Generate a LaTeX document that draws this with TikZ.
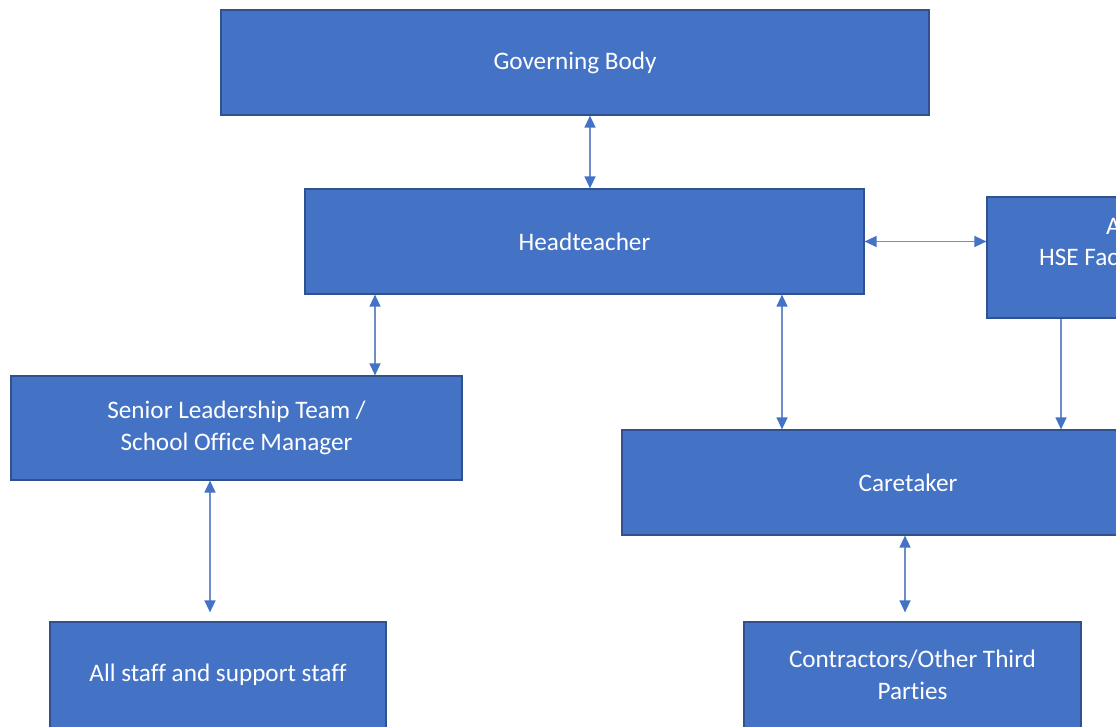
\documentclass[tikz,border=0pt]{standalone}
\usepackage{fontspec}
\setmainfont{Carlito}[Ligatures=NoCommon]
\usetikzlibrary{arrows.meta,calc}
\definecolor{boxfill}{HTML}{4472C4}
\definecolor{boxline}{HTML}{2F528F}
\definecolor{arrline}{HTML}{6F8CCB}
\tikzset{
  orgbox/.style={rectangle, fill=boxfill, draw=boxline, line width=1.2pt, text=white, align=center,
    font=\fontsize{25.2}{31.5}\selectfont, inner sep=0pt},
  link/.style={draw=arrline, line width=1.3pt, {Triangle[length=12pt,width=11pt,color=boxfill]}-{Triangle[length=12pt,width=11pt,color=boxfill]}},
  onelink/.style={draw=arrline, line width=1.3pt, -{Triangle[length=12pt,width=11pt,color=boxfill]}}
}
\begin{document}
\begin{tikzpicture}[x=1pt,y=-1pt]
\useasboundingbox (0,0) rectangle (1116,727);
\clip (0,0) rectangle (1116,727);
\node[orgbox, minimum width=708pt, minimum height=105pt] (gov) at (575,62.5) {\raisebox{-5pt}{Governing Body}};
\node[orgbox, minimum width=559pt, minimum height=105pt] (head) at (584.5,241.5) {\raisebox{-3pt}{Headteacher}};
\node[orgbox, minimum width=200pt, minimum height=121pt] (hse) at (1087,257.5) {};
\node[text=white, font=\fontsize{25.2}{31.5}\selectfont, anchor=base west, inner sep=0pt] (hse1) at (1106,235) {A};
\node[text=white, font=\fontsize{25.2}{31.5}\selectfont, anchor=base west, inner sep=0pt] (hse2) at (1039,266) {HSE Fac};
\node[orgbox, minimum width=451pt, minimum height=104pt] (slt) at (236.5,428) {Senior Leadership Team /\\ School Office Manager};
\node[orgbox, minimum width=572pt, minimum height=105pt] (care) at (908,482.5) {\raisebox{-3pt}{Caretaker}};
\node[orgbox, minimum width=336pt, minimum height=106pt] (staff) at (218,675) {\raisebox{-3pt}{All staff and support staff}};
\node[orgbox, minimum width=337pt, minimum height=106pt] (contr) at (912.5,675) {Contractors/Other Third\\ Parties};
\draw[link] ($(gov.south)+(15,0)$) -- ($(head.north)+(5.5,0)$);
\draw[link] (head.east) -- (hse.west |- head.east);
\draw[link] ($(head.south)+(-209.5,0)$) -- (slt.north -| 375,0);
\draw[link] ($(head.south)+(197.5,0)$) -- (care.north -| 782,0);
\draw[onelink] ($(hse.south)+(-26,0)$) -- (care.north -| 1061,0);
\draw[link, shorten >=9pt] (slt.south -| 210,0) -- (staff.north -| 210,0);
\draw[link, shorten >=9pt] (care.south -| 905,0) -- (contr.north -| 905,0);
\end{tikzpicture}
\end{document}
